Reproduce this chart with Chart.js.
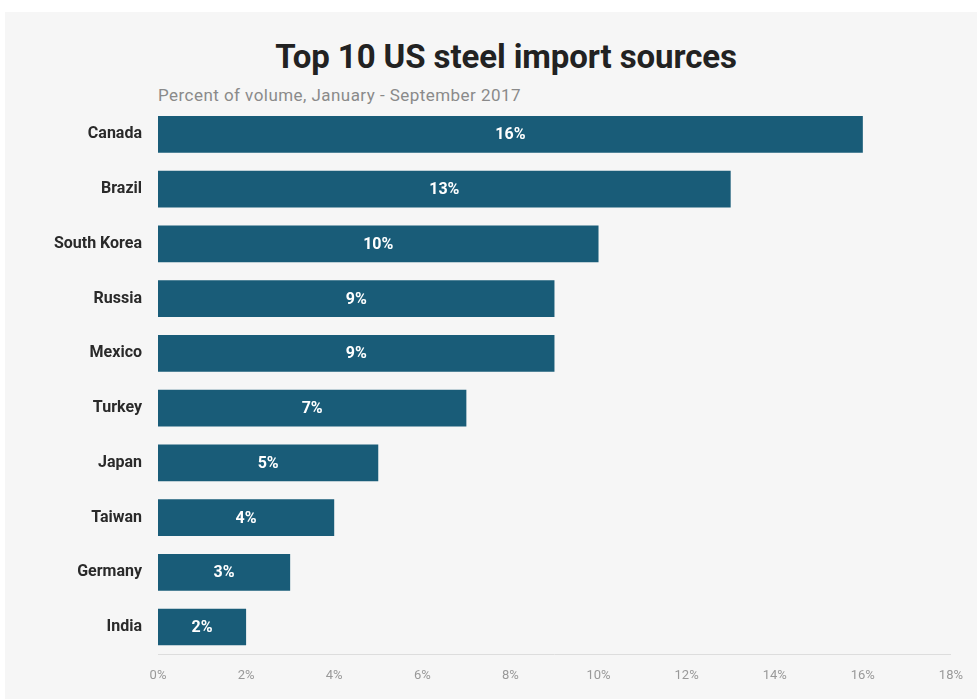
<!DOCTYPE html>
<html>
<head>
<meta charset="utf-8">
<script src="https://cdn.jsdelivr.net/npm/chart.js@4/dist/chart.umd.min.js"></script>
<style>
  html, body { margin: 0; padding: 0; background: #fff; }
  #wrap { position: absolute; left: 5px; top: 12px; width: 972px; height: 687px; background: #f6f6f6; }
  #title { position: absolute; left: 0; width: 1002px; top: 25px; text-align: center;
           font-family: Roboto, sans-serif; font-weight: bold; font-size: 33px; letter-spacing: -0.1px; color: #222; }
  #sub { position: absolute; left: 153px; top: 73px; font-family: Roboto, sans-serif; font-size: 17px; letter-spacing: 0.45px; color: #8a8a8a; }
  canvas { position: absolute; left: 0; top: 0; }
</style>
</head>
<body>
<div id="wrap">
  <div id="title">Top 10 US steel import sources</div>
  <div id="sub">Percent of volume, January - September 2017</div>
</div>
<canvas id="c" width="977" height="699"></canvas>
<script>
var countries = ['Canada', 'Brazil', 'South Korea', 'Russia', 'Mexico', 'Turkey', 'Japan', 'Taiwan', 'Germany', 'India'];
var shares = [16, 13, 10, 9, 9, 7, 5, 4, 3, 2];
var barColor = '#195c78';

// white value labels in the middle of each bar
var barLabels = {
  id: 'barLabels',
  afterDatasetsDraw: function(chart) {
    var ctx = chart.ctx;
    var meta = chart.getDatasetMeta(0);
    ctx.save();
    ctx.fillStyle = '#ffffff';
    ctx.font = 'bold 16px Roboto, sans-serif';
    ctx.textAlign = 'center';
    ctx.textBaseline = 'middle';
    meta.data.forEach(function(bar, i) {
      var x = (bar.x + bar.base) / 2;
      ctx.fillText(shares[i] + '%', x, bar.y + 1);
    });
    ctx.restore();
  }
};

var ctx = document.getElementById('c').getContext('2d');
var chart = new Chart(ctx, {
  type: 'bar',
  data: {
    labels: countries,
    datasets: [{
      data: shares,
      backgroundColor: barColor,
      barPercentage: 0.67,
      categoryPercentage: 1
    }]
  },
  options: {
    indexAxis: 'y',
    responsive: false,
    animation: false,
    layout: { padding: { top: 107, right: 22, bottom: 1, left: 0 } },
    plugins: {
      legend: { display: false },
      tooltip: { enabled: false }
    },
    scales: {
      x: {
        min: 0,
        max: 18,
        grid: { display: false, drawTicks: false },
        border: { display: true, color: '#dddddd', width: 1 },
        ticks: {
          stepSize: 2,
          padding: 14,
          color: '#999999',
          font: { family: 'Roboto, sans-serif', size: 13 },
          callback: function(v) { return v + '%'; }
        }
      },
      y: {
        grid: { display: false, drawTicks: false },
        border: { display: false },
        afterFit: function(scale) { scale.width = 158; },
        ticks: {
          padding: 16,
          color: '#2a2a2a',
          font: { family: 'Roboto, sans-serif', size: 16, weight: 'bold' }
        }
      }
    }
  },
  plugins: [barLabels]
});
</script>
</body>
</html>
